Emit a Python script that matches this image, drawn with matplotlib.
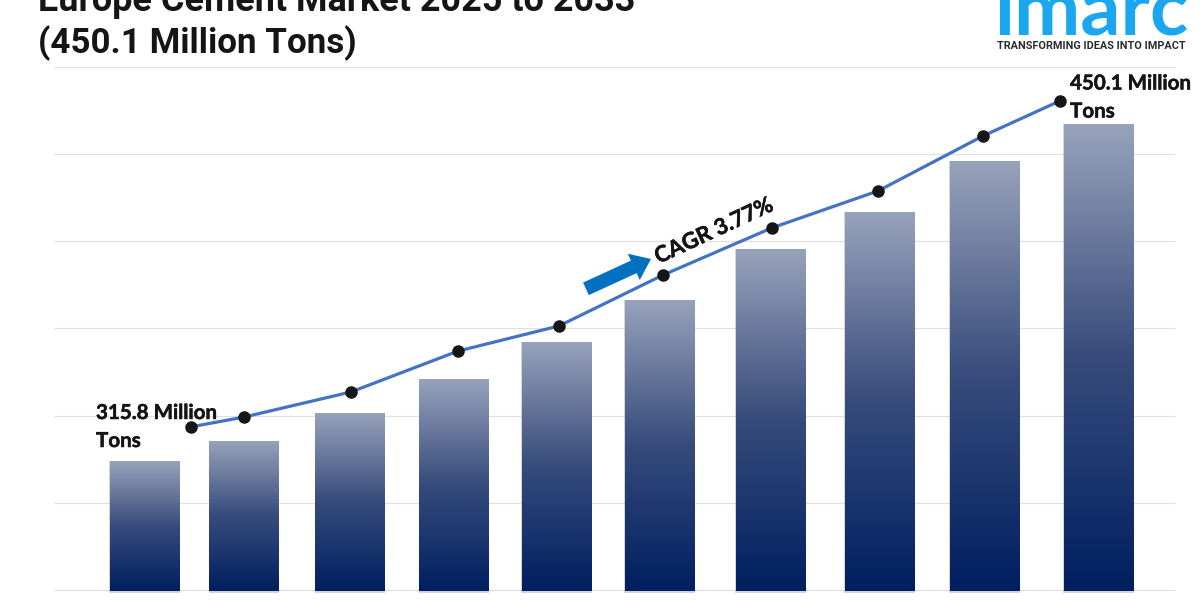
import numpy as np
import matplotlib
matplotlib.use("Agg")
import matplotlib.pyplot as plt
import matplotlib.patheffects as pe
from matplotlib.colors import LinearSegmentedColormap

title_lines = ["Europe Cement Market 2025 to 2033", "(450.1 Million Tons)"]
bar_pos = [0, 0.939, 1.939, 2.92, 3.887, 4.858, 5.906, 6.934, 7.925, 9.0]
bar_values = [315.8, 323.8, 335.0, 348.5, 363.3, 380.0, 400.4, 415.1, 435.5, 450.1]
line_pos = [0.439, 0.939, 1.948, 2.958, 3.91, 4.892, 5.92, 6.92, 7.91, 8.637]
line_values = [329.4, 333.3, 343.3, 359.6, 369.6, 389.9, 408.7, 423.4, 445.3, 459.3]
grid_values = [264.4, 299.1, 333.7, 368.8, 403.5, 438.2, 472.8]
start_label = "315.8 Million\nTons"
end_label = "450.1 Million\nTons"
cagr_label = "CAGR 3.77%"
brand = "imarc"
tagline = "TRANSFORMING IDEAS INTO IMPACT"

BASE = 264.0
fig = plt.figure(figsize=(12, 6), dpi=100, facecolor="white")
ax = fig.add_axes([0, 0, 1, 1])
ax.set_xlim(-1.363, 9.958)
ax.set_ylim(260.4, 499.5)
ax.axis("off")

ax.hlines(grid_values, -0.85, 9.72, color="#e0e0e0", lw=0.9, zorder=1)

cmap = LinearSegmentedColormap.from_list("barfade", ["#001f60", "#374c7c", "#98a3bb"])
grad = np.linspace(1, 0, 256).reshape(-1, 1)
w = 0.655
ax.bar(bar_pos, np.array(bar_values) - BASE + 0.9, width=w + 0.012, bottom=BASE - 0.9,
       color="#8a8a8a", alpha=0.35, zorder=2)
bars = ax.bar(bar_pos, np.array(bar_values) - BASE, width=w, bottom=BASE,
              facecolor="none", edgecolor="none", zorder=3)
for rect in bars:
    x0, y0 = rect.get_x(), rect.get_y()
    im = ax.imshow(grad, cmap=cmap, vmin=0, vmax=1, aspect="auto", zorder=3,
                   extent=[x0, x0 + rect.get_width(), y0, y0 + rect.get_height()])
    im.set_clip_path(rect)
ax.set_xlim(-1.363, 9.958)
ax.set_ylim(260.4, 499.5)

ax.plot(line_pos, line_values, color="#4472c4", lw=2.3, zorder=4)
ax.plot(line_pos, line_values, ls="none", marker="o", ms=8, color="#161616", zorder=5)

stroke = [pe.withStroke(linewidth=0.35, foreground="#141414")]
lab = dict(family="Lato", weight="bold", color="#141414", fontsize=14.8, linespacing=1.5,
           transform=fig.transFigure, va="center", ha="left", path_effects=stroke)
fig.text(96 / 1200, 1 - 427 / 600, start_label, **lab)
fig.text(1070 / 1200, 1 - 97.5 / 600, end_label, **lab)

fig.text(714 / 1200, 1 - 231 / 600, cagr_label, family="Lato", weight="bold", color="#141414",
         fontsize=16, rotation=25, rotation_mode="anchor", ha="center", va="center",
         path_effects=stroke)
ax.annotate("", xy=(4.778, 396.3), xytext=(4.165, 384.4),
            arrowprops=dict(arrowstyle="simple,head_length=0.85,head_width=1.3,tail_width=0.62",
                            mutation_scale=16, color="#0070c0", lw=0, shrinkA=0, shrinkB=0), zorder=5)

for t, y, fs in zip(title_lines, (11, 53), (25.9, 25.2)):
    fig.text(38 / 1200, 1 - y / 600, t, family="Roboto", weight="bold", color="#151515",
             fontsize=fs, ha="left", va="baseline")

fig.text(1091 / 1200, 1 - 34.5 / 600, brand, family="Lato", weight="bold", color="#1aa7f0",
         fontsize=57, ha="center", va="baseline")
fig.text(1091 / 1200, 1 - 46 / 600, tagline, family="Roboto", weight="bold", color="#2b2b2b",
         fontsize=7.85, ha="center", va="center")

fig.savefig("out.png", dpi=100)
